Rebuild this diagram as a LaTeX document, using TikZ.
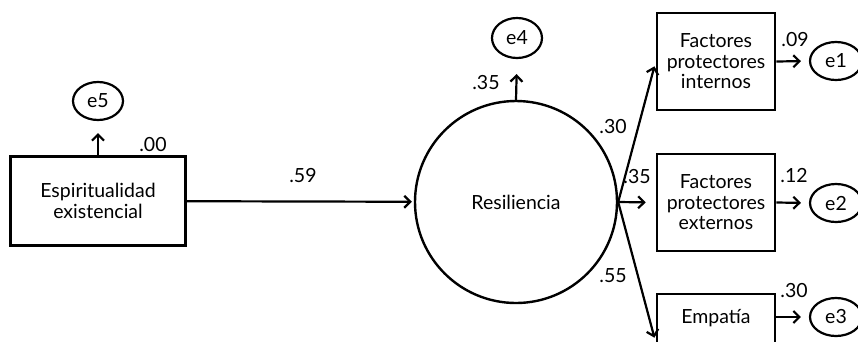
\documentclass[tikz,border=0pt]{standalone}
\usepackage{fontspec}
\setmainfont{Lato}
\usetikzlibrary{arrows.meta,shapes.geometric}

\begin{document}
\begin{tikzpicture}[x=1pt,y=-1pt,
	font=\fontsize{19.5}{20.5}\selectfont,
	obs/.style={shape=rectangle,draw=black,line width=2.6pt,align=center},
	lat/.style={shape=circle,draw=black,line width=2.4pt,minimum size=202pt,inner sep=0pt},
	err/.style={shape=ellipse,draw=black,line width=2.2pt,minimum width=50pt,minimum height=38pt,inner sep=0pt},
	path/.style={line width=2.2pt,-{Straight Barb[length=6pt,width=12pt,line width=2.2pt]}},
	coef/.style={inner sep=0pt}]
	\useasboundingbox (0,0) rectangle (858,341);

	\node[obs,minimum width=175pt,minimum height=89pt] (A) at (98,201) {Espiritualidad\\existencial};
	\node[err] (E5) at (98,101) {e5};
	\node[lat] (B) at (516,202) {Resiliencia};
	\node[err,minimum height=40pt] (E4) at (517,38) {e4};
	\node[obs,minimum width=118pt,minimum height=97pt] (C) at (716,61.5) {Factores\\protectores\\internos};
	\node[obs,minimum width=118pt,minimum height=97pt] (D) at (716,202.5) {Factores\\protectores\\externos};
	\node[obs,minimum width=118pt,minimum height=97pt] (F) at (716,342.5) {};
	\node (Ftext) at (716,318) {Empatía};
	\node[err,minimum width=52pt] (E1) at (836,61) {e1};
	\node[err,minimum width=52pt] (E2) at (836,203) {e2};
	\node[err,minimum width=52pt] (E3) at (836,317) {e3};

	\draw[path,shorten >=2pt] (A) -- (B);
	\draw[path,shorten >=12pt] (A.north) -- (E5.south);
	\draw[path,shorten >=15pt] (B.north) -- (E4.south);
	\draw[path,shorten >=5pt] (B.east) -- (C.west);
	\draw[path,shorten >=10pt] (B.east) -- (D.west);
	\draw[path,shorten >=5pt] (B.east) -- (F.west);
	\draw[path,shorten >=8pt] (C.east) -- (E1.west);
	\draw[path,shorten >=8pt] (D.east) -- (E2.west);
	\draw[path,shorten >=8pt] (F.east |- E3.west) -- (E3.west);

	\node[coef] (l1) at (303,176) {.59};
	\node[coef] (l2) at (153,145) {.00};
	\node[coef] (l3) at (486,83) {.35};
	\node[coef] (l4) at (613,127) {.30};
	\node[coef] (l5) at (637,177) {.35};
	\node[coef] (l6) at (613,276) {.55};
	\node[coef] (l7) at (795,40) {.09};
	\node[coef] (l8) at (794,176) {.12};
	\node[coef] (l9) at (794,291) {.30};
\end{tikzpicture}
\end{document}
